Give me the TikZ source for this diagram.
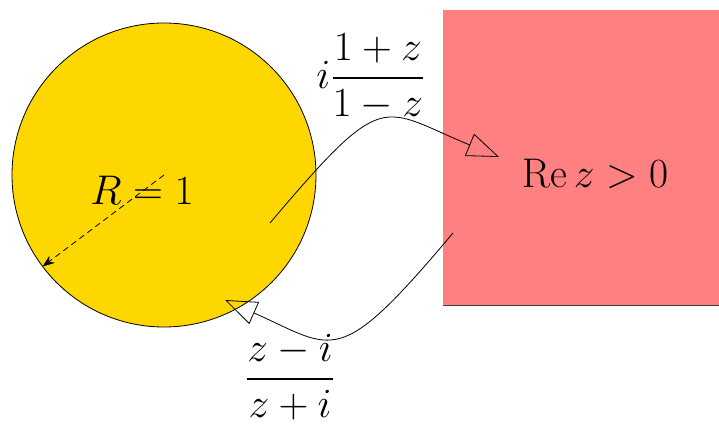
\documentclass[tikz,border=0pt]{standalone}
\usepackage{amsmath}
\usetikzlibrary{arrows.meta}
\definecolor{diskgold}{RGB}{255,215,0}

\begin{document}
\begin{tikzpicture}[x=0.5pt,y=0.5pt,font=\fontsize{20}{24}\selectfont,
  maparrow/.style={-{Triangle[open,length=16pt,width=12pt]}}]
  \useasboundingbox (0,0) rectangle (719,424);

  % Right half-plane (clipped square)
  \fill[red!50] (443,119) rectangle (719,414);
  \draw[black!75] (443,119)--(719,119);
  \node (halfplane) at (595,250) {$\operatorname{Re} z>0$};

  % Unit disk and its radius
  \filldraw[fill=diskgold,draw=black] (164,249) circle[radius=152];
  \coordinate (center) at (164,249);
  \path (center) ++(217:152) coordinate (rim);
  \draw[densely dashed,-{Stealth[length=6pt]}] (center)--(rim);
  \node (radius) at (142,234) {$R=1$};

  % Disk -> half-plane
  \coordinate (fromdisk) at (270,201);
  \coordinate (tohalf) at (499,267);
  \draw[maparrow] (fromdisk) .. controls (386,338) and (380,316) .. (tohalf);
  \node (cayley) at (371,347) {$i\dfrac{1+z}{1-z}$};

  % Half-plane -> disk
  \coordinate (fromhalf) at (453,191);
  \coordinate (todisk) at (225,124);
  \draw[maparrow] (fromhalf) .. controls (337,53) and (335,75) .. (todisk);
  \node[inner sep=0.5pt] (inverse) at (290,47) {$\dfrac{z-i}{z+i}$};
\end{tikzpicture}
\end{document}
